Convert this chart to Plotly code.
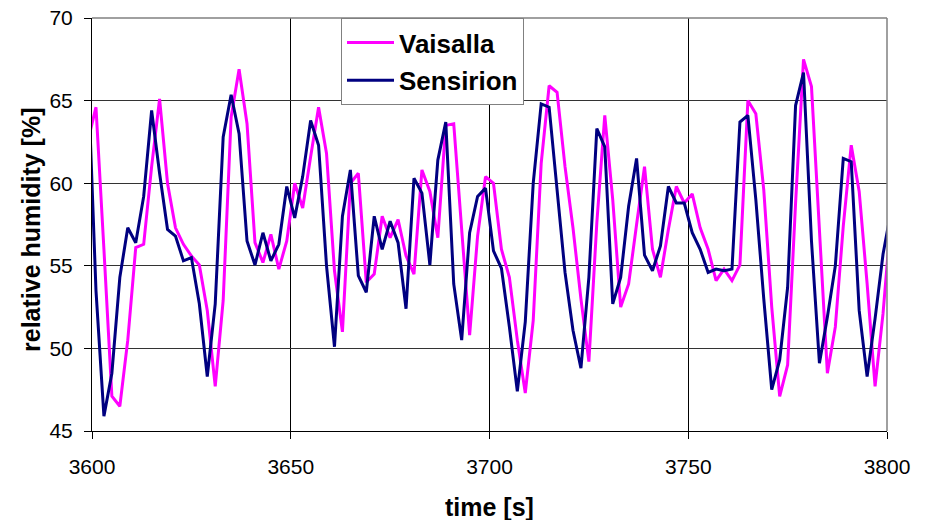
import plotly.graph_objects as go

time_s = list(range(3599, 3803, 2))

sensirion = [
    66.5, 53.5, 45.9, 48.5, 54.3, 57.3, 56.4, 59.2, 64.4, 60.6,
    57.2, 56.8, 55.3, 55.5, 52.7, 48.3, 52.7, 62.8, 65.35, 63.0,
    56.5, 55.05, 57.0, 55.3, 56.3, 59.8, 57.9, 60.4, 63.8, 62.3,
    55.0, 50.1, 58.0, 60.8, 54.4, 53.4, 58.0, 56.0, 57.7, 56.4,
    52.4, 60.3, 59.4, 55.05, 61.4, 63.7, 53.9, 50.5, 57.0, 59.2,
    59.7, 55.9, 54.85, 51.3, 47.4, 51.6, 60.0, 64.8, 64.6, 59.8,
    54.6, 51.1, 48.8, 54.3, 63.3, 62.2, 52.7, 54.3, 58.6, 61.5,
    55.65, 54.7, 56.2, 59.8, 58.8, 58.8, 57.0, 56.0, 54.6, 54.8,
    54.7, 54.8, 63.7, 64.1, 59.0, 53.0, 47.5, 49.3, 53.7, 64.7,
    66.7, 56.5, 49.1, 51.9, 55.0, 61.5, 61.3, 52.3, 48.3, 51.8,
    55.7, 58.3,
]

vaisalla = [
    62.6, 64.6, 56.0, 47.1, 46.5, 50.5, 56.1, 56.3, 61.0, 65.1,
    60.0, 57.3, 56.3, 55.6, 55.05, 52.3, 47.7, 52.9, 64.0, 66.9,
    63.6, 56.4, 55.2, 56.9, 54.8, 56.5, 60.0, 58.5, 61.6, 64.6,
    61.8, 54.7, 51.0, 60.0, 60.6, 54.0, 54.5, 58.0, 56.7, 57.8,
    55.6, 54.5, 60.8, 59.5, 56.7, 63.5, 63.6, 57.0, 50.8, 56.8,
    60.4, 60.0, 56.0, 54.3, 50.5, 47.3, 51.7, 61.2, 65.9, 65.5,
    61.0, 57.3, 53.0, 49.2, 57.6, 64.1, 59.0, 52.5, 53.9, 57.5,
    61.0, 56.0, 54.3, 57.2, 59.8, 58.8, 59.35, 57.3, 56.0, 54.1,
    54.8, 54.1, 55.05, 65.0, 64.2, 59.6, 52.5, 47.1, 49.0, 58.8,
    67.5, 65.85, 57.0, 48.5, 51.3, 57.4, 62.3, 59.5, 53.9, 47.7,
    52.1, 57.9,
]

x_ticks = [3600, 3650, 3700, 3750, 3800]
y_ticks = [45, 50, 55, 60, 65, 70]

assert len(time_s) == len(sensirion) == len(vaisalla)

FONT = "Liberation Sans, Arial, sans-serif"

fig = go.Figure()
fig.add_trace(go.Scatter(x=time_s, y=vaisalla, mode="lines", name="Vaisalla",
                         line=dict(color="#FF00FF", width=3), legendgroup="a"))
fig.add_trace(go.Scatter(x=time_s, y=sensirion, mode="lines", name="Sensirion",
                         line=dict(color="#000080", width=3), legendgroup="b"))

fig.update_layout(
    template="none",
    width=925, height=520,
    margin=dict(l=92, r=38, t=18, b=89, autoexpand=False),
    paper_bgcolor="white", plot_bgcolor="white",
    font=dict(family=FONT, color="black", size=21),
    showlegend=True,
    hovermode=False,
    legend=dict(
        x=(341 - 92) / 795, y=1.0, xanchor="left", yanchor="top",
        bgcolor="white", bordercolor="#808080", borderwidth=1,
        font=dict(family=FONT, size=26, color="black", weight="bold"),
        tracegroupgap=1, itemwidth=47,
    ),
)

fig.update_xaxes(
    range=[3600, 3800], tickvals=x_ticks, ticktext=[str(v) for v in x_ticks],
    showgrid=True, gridcolor="black", gridwidth=1,
    showline=True, linecolor="black", linewidth=1,
    ticks="outside", ticklen=7, tickcolor="black", ticklabelstandoff=10,
    ticklabeloverflow="allow",
    tickfont=dict(family=FONT, size=21, color="black"),
    zeroline=False, automargin=False,
)
fig.update_yaxes(
    range=[45, 70], tickvals=y_ticks, ticktext=[str(v) for v in y_ticks],
    showgrid=True, gridcolor="#333333", gridwidth=1,
    showline=True, linecolor="black", linewidth=1,
    ticks="outside", ticklen=7, tickcolor="black", ticklabelstandoff=7,
    ticklabeloverflow="allow",
    tickfont=dict(family=FONT, size=21, color="black"),
    zeroline=False, automargin=False,
)

# gray plot-area border on top and right
fig.add_shape(type="line", xref="paper", yref="paper", x0=0, x1=1, y0=1, y1=1,
              line=dict(color="#808080", width=1.5), layer="above")
fig.add_shape(type="line", xref="paper", yref="paper", x0=1, x1=1, y0=0, y1=1,
              line=dict(color="#808080", width=1.5), layer="above")

fig.add_annotation(text="time [s]", xref="paper", yref="paper",
                   x=0.5, y=(431 - 507) / 413, xanchor="center", yanchor="middle",
                   showarrow=False, font=dict(family=FONT, size=25, color="black", weight="bold"))
fig.add_annotation(text="relative humidity [%]", xref="paper", yref="paper",
                   x=(31 - 92) / 795, y=(431 - 230) / 413, xanchor="center", yanchor="middle",
                   textangle=-90, showarrow=False,
                   font=dict(family=FONT, size=25, color="black", weight="bold"))

fig.write_html(
    "out.html",
    config={"displayModeBar": False},
    post_script="document.body.style.margin='0';document.body.style.padding='0';",
)
